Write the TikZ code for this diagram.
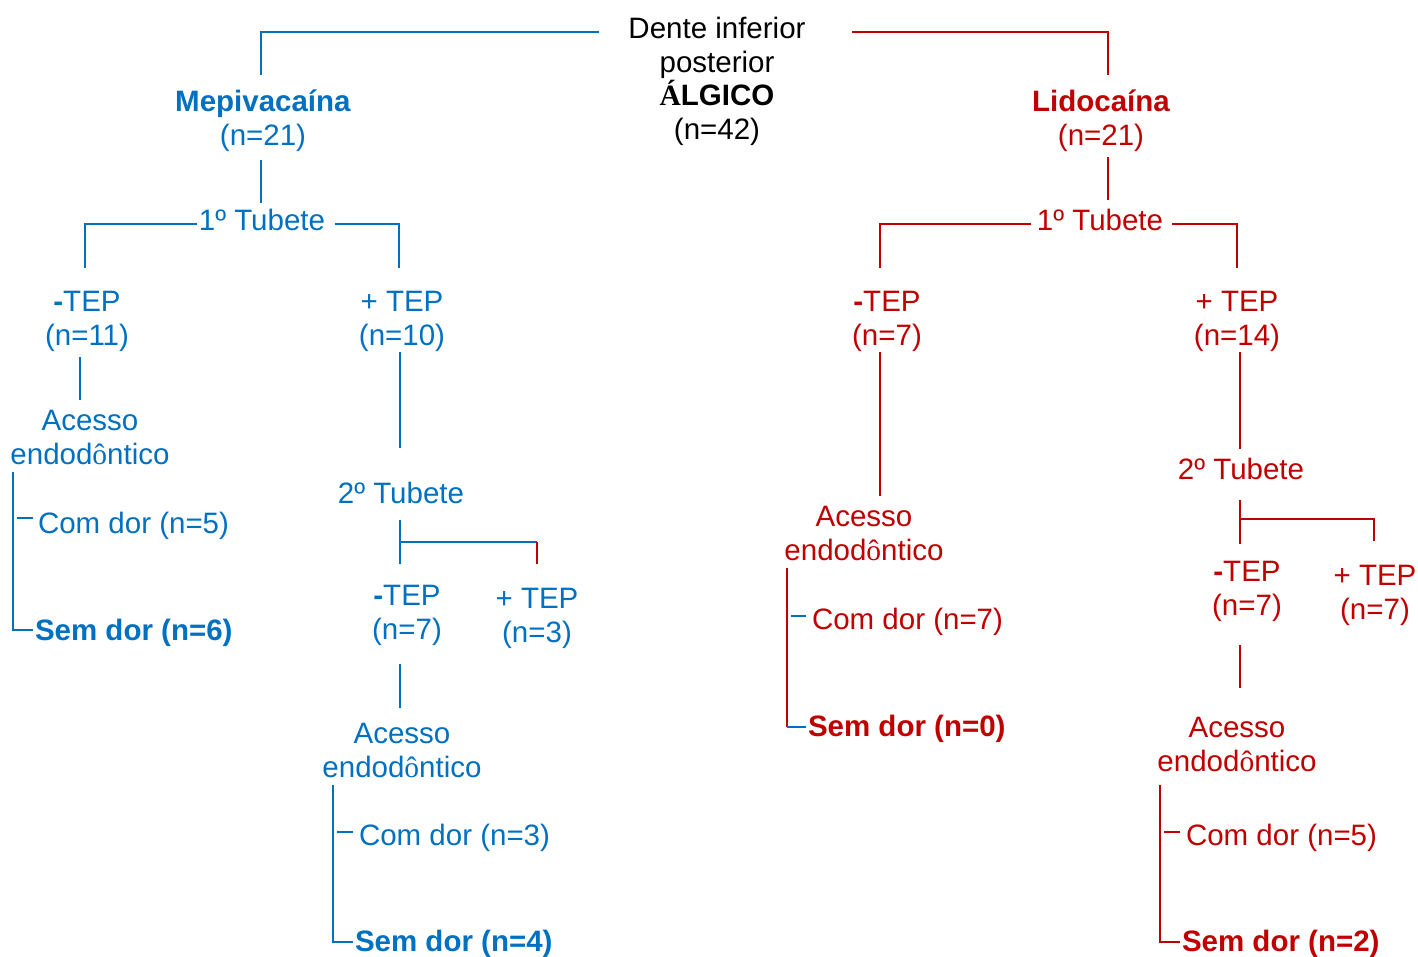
\documentclass[tikz,border=0pt]{standalone}
\usepackage{fontspec}
\setmainfont{Liberation Sans}
\newfontfamily\serfam{Liberation Serif}
\definecolor{mblue}{HTML}{0070C0}
\definecolor{mred}{HTML}{C00000}
\newcommand{\ocirc}{{\serfam ô}}
\tikzset{
  lbl/.style={inner sep=0pt, outer sep=0pt, align=center, anchor=base,
              font=\fontsize{29.5}{33.5}\selectfont},
  lft/.style={inner sep=0pt, outer sep=0pt, anchor=base west,
              font=\fontsize{29.5}{33.5}\selectfont},
  bl/.style={draw=mblue, line width=2pt},
  rl/.style={draw=mred, line width=2pt},
}
\begin{document}
\begin{tikzpicture}[x=1pt,y=-1pt]
\useasboundingbox (0,0) rectangle (1418,956);

% ---- top
\node[lbl] (top) at (717,139) {Dente inferior\\posterior\\\textbf{{\serfam Á}LGICO}\\(n=42)};

% ---- blue branch
\node[lbl, text=mblue] (mep) at (263,145) {\textbf{Mepivaca\'ina}\\(n=21)};
\node[lbl, text=mblue] (tubL) at (262,230) {1º Tubete};
\node[lbl, text=mblue] (tmL) at (87,345) {\textbf{-}TEP\\(n=11)};
\node[lbl, text=mblue] (tpL) at (402,345) {+ TEP\\(n=10)};
\node[lbl, text=mblue] (acL1) at (90,464) {Acesso\\endod\ocirc ntico};
\node[lft, text=mblue] (comL1) at (38,533) {Com dor (n=5)};
\node[lft, text=mblue] (semL1) at (35,640) {\textbf{Sem dor (n=6)}};
\node[lbl, text=mblue] (tub2L) at (401,503) {2º Tubete};
\node[lbl, text=mblue] (tmL2) at (407,639) {\textbf{-}TEP\\(n=7)};
\node[lbl, text=mblue] (tpL2) at (537,642) {+ TEP\\(n=3)};
\node[lbl, text=mblue] (acL2) at (402,777) {Acesso\\endod\ocirc ntico};
\node[lft, text=mblue] (comL2) at (359,845) {Com dor (n=3)};
\node[lft, text=mblue] (semL2) at (355,951) {\textbf{Sem dor (n=4)}};

% ---- red branch
\node[lbl, text=mred] (lid) at (1101,145) {\textbf{Lidoca\'ina}\\(n=21)};
\node[lbl, text=mred] (tubR) at (1100,230) {1º Tubete};
\node[lbl, text=mred] (tmR) at (887,345) {\textbf{-}TEP\\(n=7)};
\node[lbl, text=mred] (tpR) at (1237,345) {+ TEP\\(n=14)};
\node[lbl, text=mred] (acR1) at (864,560) {Acesso\\endod\ocirc ntico};
\node[lft, text=mred] (comR1) at (812,629) {Com dor (n=7)};
\node[lft, text=mred] (semR1) at (808,736) {\textbf{Sem dor (n=0)}};
\node[lbl, text=mred] (tub2R) at (1241,479) {2º Tubete};
\node[lbl, text=mred] (tmR2) at (1247,615) {\textbf{-}TEP\\(n=7)};
\node[lbl, text=mred] (tpR2) at (1375,619) {+ TEP\\(n=7)};
\node[lbl, text=mred] (acR2) at (1237,771) {Acesso\\endod\ocirc ntico};
\node[lft, text=mred] (comR2) at (1186,845) {Com dor (n=5)};
\node[lft, text=mred] (semR2) at (1182,951) {\textbf{Sem dor (n=2)}};

% ---- connector end points (blue)
\coordinate (b1a) at (599,32);   \coordinate (b1b) at (261,75);
\coordinate (b2a) at (261,160);  \coordinate (b2b) at (261,203);
\coordinate (b3a) at (197,224);  \coordinate (b3b) at (85,268);
\coordinate (b4a) at (335,224);  \coordinate (b4b) at (399,268);
\coordinate (b5a) at (80,357);   \coordinate (b5b) at (80,400);
\coordinate (b6a) at (400,352);  \coordinate (b6b) at (400,448);
\coordinate (b7a) at (13,472);   \coordinate (b7b) at (33,630);
\coordinate (b8a) at (17,518);   \coordinate (b8b) at (33,518);
\coordinate (b9a) at (400,520);  \coordinate (b9b) at (400,564);
\coordinate (b9c) at (400,542);  \coordinate (b9d) at (537,542);
\coordinate (b9e) at (537,564);
\coordinate (b10a) at (400,664); \coordinate (b10b) at (400,708);
\coordinate (b11a) at (333,785); \coordinate (b11b) at (353,942);
\coordinate (b12a) at (337,832); \coordinate (b12b) at (353,832);

\draw[bl] (b1a) -| (b1b);
\draw[bl] (b2a) -- (b2b);
\draw[bl] (b3a) -| (b3b);
\draw[bl] (b4a) -| (b4b);
\draw[bl] (b5a) -- (b5b);
\draw[bl] (b6a) -- (b6b);
\draw[bl] (b7a) |- (b7b);
\draw[bl] (b8a) -- (b8b);
\draw[bl] (b9a) -- (b9b);
\draw[bl] (b9c) -- (b9d);
\draw[rl] (b9d) -- (b9e);
\draw[bl] (b10a) -- (b10b);
\draw[bl] (b11a) |- (b11b);
\draw[bl] (b12a) -- (b12b);

% ---- connector end points (red)
\coordinate (r1a) at (852,32);    \coordinate (r1b) at (1108,75);
\coordinate (r2a) at (1108,157);  \coordinate (r2b) at (1108,200);
\coordinate (r3a) at (1031,224);  \coordinate (r3b) at (880,268);
\coordinate (r4a) at (1172,224);  \coordinate (r4b) at (1237,268);
\coordinate (r5a) at (880,352);   \coordinate (r5b) at (880,496);
\coordinate (r6a) at (787,568);   \coordinate (r6b) at (787,727);
\coordinate (r6c) at (806,727);
\coordinate (r7a) at (791,616);   \coordinate (r7b) at (806,616);
\coordinate (r8a) at (1240,352);  \coordinate (r8b) at (1240,449);
\coordinate (r9a) at (1240,500);  \coordinate (r9b) at (1240,544);
\coordinate (r9c) at (1240,519);  \coordinate (r9d) at (1374,541);
\coordinate (r10a) at (1240,645); \coordinate (r10b) at (1240,688);
\coordinate (r11a) at (1160,785); \coordinate (r11b) at (1180,942);
\coordinate (r12a) at (1164,832); \coordinate (r12b) at (1180,832);

\draw[rl] (r1a) -| (r1b);
\draw[rl] (r2a) -- (r2b);
\draw[rl] (r3a) -| (r3b);
\draw[rl] (r4a) -| (r4b);
\draw[rl] (r5a) -- (r5b);
\draw[rl] (r6a) -- (r6b);
\draw[bl] (r6b) -- (r6c);
\draw[bl] (r7a) -- (r7b);
\draw[rl] (r8a) -- (r8b);
\draw[rl] (r9a) -- (r9b);
\draw[rl] (r9c) -| (r9d);
\draw[rl] (r10a) -- (r10b);
\draw[rl] (r11a) |- (r11b);
\draw[rl] (r12a) -- (r12b);
\end{tikzpicture}
\end{document}
